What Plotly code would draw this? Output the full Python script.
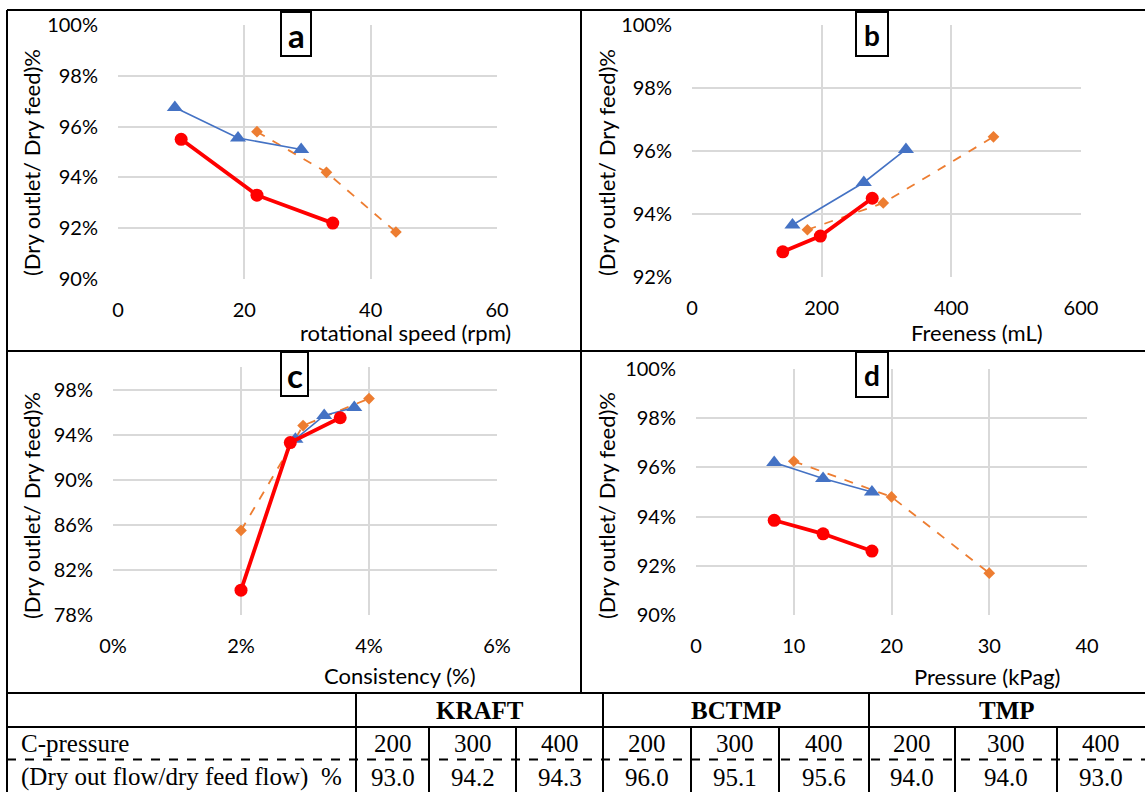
import plotly.graph_objects as go

W, H = 1145, 792

# ---- panel a: rotational speed (rpm) ----
speed_blue_x = [9, 19, 29]
speed_blue_y = [96.75, 95.55, 95.1]
speed_orange_x = [22, 33, 44]
speed_orange_y = [95.8, 94.2, 91.85]
speed_red_x = [10, 22, 34]
speed_red_y = [95.5, 93.3, 92.2]

# ---- panel b: freeness (mL) ----
free_blue_x = [155, 265, 330]
free_blue_y = [93.65, 95.0, 96.05]
free_orange_x = [178, 295, 465]
free_orange_y = [93.5, 94.35, 96.45]
free_red_x = [140, 198, 278]
free_red_y = [92.8, 93.3, 94.5]

# ---- panel c: consistency (%) ----
cons_blue_x = [2.85, 3.3, 3.77]
cons_blue_y = [93.6, 95.7, 96.4]
cons_orange_x = [2.0, 2.97, 4.0]
cons_orange_y = [85.5, 94.8, 97.2]
cons_red_x = [2.0, 2.77, 3.55]
cons_red_y = [80.2, 93.3, 95.5]

# ---- panel d: pressure (kPag) ----
pres_blue_x = [8, 13, 18]
pres_blue_y = [96.2, 95.55, 95.0]
pres_orange_x = [10, 20, 30]
pres_orange_y = [96.25, 94.8, 91.7]
pres_red_x = [8, 13, 18]
pres_red_y = [93.85, 93.3, 92.6]

# ---- table ----
pulp_types = ["KRAFT", "BCTMP", "TMP"]
c_pressure = [200, 300, 400]
kraft_ratio = [93.0, 94.2, 94.3]
bctmp_ratio = [96.0, 95.1, 95.6]
tmp_ratio = [94.0, 94.0, 93.0]
row_labels = ["C-pressure", "(Dry out flow/dry feed flow)  %"]

BLUE, ORANGE, RED = "#4472C4", "#ED7D31", "#FF0000"
GRID = "#D9D9D9"
CHART_FONT = "Lato"
TABLE_FONT = "Liberation Serif"


def px(x):
    return x / W


def py(y):
    return 1 - y / H


fig = go.Figure()

panels = [
    dict(ax="", xd=(118, 497), yd=(25, 279), xr=[0, 60], xdt=20, xs="", yr=[90, 100], ydt=2,
         data=(speed_orange_x, speed_orange_y, speed_blue_x, speed_blue_y, speed_red_x, speed_red_y),
         letter="a", lsize=33, box=(281, 12, 311, 56), xt="rotational speed (rpm)",
         xtp=(513, 333), ytp=(32, 163)),
    dict(ax="2", xd=(692, 1081), yd=(25, 277), xr=[0, 600], xdt=200, xs="", yr=[92, 100], ydt=2,
         data=(free_orange_x, free_orange_y, free_blue_x, free_blue_y, free_red_x, free_red_y),
         letter="b", lsize=28, box=(856, 12, 888, 56), xt="Freeness (mL)",
         xtp=(1045, 333), ytp=(607, 163)),
    dict(ax="3", xd=(113, 497), yd=(367, 615), xr=[0, 6], xdt=2, xs="%", yr=[78, 100], ydt=4,
         data=(cons_orange_x, cons_orange_y, cons_blue_x, cons_blue_y, cons_red_x, cons_red_y),
         letter="c", lsize=33, box=(281, 352, 308, 396), xt="Consistency (%)",
         xtp=(478, 675), ytp=(32, 506)),
    dict(ax="4", xd=(696, 1087), yd=(369, 615), xr=[0, 40], xdt=10, xs="", yr=[90, 100], ydt=2,
         data=(pres_orange_x, pres_orange_y, pres_blue_x, pres_blue_y, pres_red_x, pres_red_y),
         letter="d", lsize=28, box=(856, 352, 888, 397), xt="Pressure (kPag)",
         xtp=(1062, 676), ytp=(607, 506)),
]

shapes = []
annotations = []
layout_axes = {}

for p in panels:
    xa, ya = "x" + p["ax"], "y" + p["ax"]
    ox, oy, bx, by, rx, ry = p["data"]
    fig.add_trace(go.Scatter(x=ox, y=oy, xaxis=xa, yaxis=ya, mode="lines+markers",
                             line=dict(color=ORANGE, width=1.8, dash="dash"),
                             marker=dict(symbol="diamond", size=9, color=ORANGE)))
    fig.add_trace(go.Scatter(x=bx, y=by, xaxis=xa, yaxis=ya, mode="lines+markers",
                             line=dict(color=BLUE, width=1.6),
                             marker=dict(symbol="triangle-up", size=14, color=BLUE)))
    fig.add_trace(go.Scatter(x=rx, y=ry, xaxis=xa, yaxis=ya, mode="lines+markers",
                             line=dict(color=RED, width=3.8),
                             marker=dict(symbol="circle", size=13, color=RED)))

    common = dict(showgrid=True, gridcolor=GRID, gridwidth=1.5, zeroline=False,
                  showline=False, ticks="", tickfont=dict(family=CHART_FONT, size=20, color="#000000"),
                  fixedrange=True, automargin=False)
    layout_axes["xaxis" + p["ax"]] = dict(
        domain=[px(p["xd"][0]), px(p["xd"][1])], range=p["xr"], dtick=p["xdt"], tick0=0,
        ticksuffix=p["xs"], anchor=ya, ticklabelstandoff=17, **common)
    layout_axes["yaxis" + p["ax"]] = dict(
        domain=[py(p["yd"][1]), py(p["yd"][0])], range=p["yr"], dtick=p["ydt"], tick0=p["yr"][0],
        ticksuffix="%", anchor=xa, ticklabelstandoff=19, **common)

    # panel letter box
    x0, y0, x1, y1 = p["box"]
    shapes.append(dict(type="rect", xref="paper", yref="paper", x0=px(x0), x1=px(x1),
                       y0=py(y1), y1=py(y0), line=dict(color="#000000", width=2),
                       fillcolor="#FFFFFF", layer="above"))
    annotations.append(dict(text="<b>%s</b>" % p["letter"], xref="paper", yref="paper",
                            x=px((x0 + x1) / 2), y=py((y0 + y1) / 2 + 1), showarrow=False,
                            xanchor="center", yanchor="middle",
                            font=dict(family=CHART_FONT, size=p["lsize"], color="#000000")))
    # axis titles
    annotations.append(dict(text=p["xt"], xref="paper", yref="paper", x=px(p["xtp"][0]),
                            y=py(p["xtp"][1]), showarrow=False, xanchor="right", yanchor="middle",
                            font=dict(family=CHART_FONT, size=22, color="#000000")))
    annotations.append(dict(text="(Dry outlet/ Dry feed)%", xref="paper", yref="paper",
                            x=px(p["ytp"][0]), y=py(p["ytp"][1]), showarrow=False, textangle=-90,
                            xanchor="center", yanchor="middle",
                            font=dict(family=CHART_FONT, size=22, color="#000000")))

# ---- frame around the four panels ----
BLACK = dict(color="#000000", width=2)


def hline(y, x0, x1, dash=None):
    ln = dict(BLACK)
    if dash:
        ln["dash"] = dash
    shapes.append(dict(type="line", xref="paper", yref="paper", x0=px(x0), x1=px(x1),
                       y0=py(y), y1=py(y), line=ln))


def vline(x, y0, y1):
    shapes.append(dict(type="line", xref="paper", yref="paper", x0=px(x), x1=px(x),
                       y0=py(y0), y1=py(y1), line=BLACK))


hline(10, 7, W)
hline(351, 7, W)
vline(7, 10, H)
vline(581, 10, 693)

# ---- table grid ----
hline(693, 7, W)
hline(727, 7, W)
hline(759.5, 7, W, dash="dash")
group_edges = [356, 603, 869, W]
sub_edges = [356, 429, 516, 603, 691, 779, 869, 955, 1057, W]
for x in group_edges[:-1]:
    vline(x, 693, H)
for x in sub_edges:
    if x not in group_edges:
        vline(x, 727, H)

TFONT = dict(family=TABLE_FONT, size=25, color="#000000")
ratios = [kraft_ratio, bctmp_ratio, tmp_ratio]
for g, name in enumerate(pulp_types):
    cx = (group_edges[g] + group_edges[g + 1]) / 2
    annotations.append(dict(text="<b>%s</b>" % name, xref="paper", yref="paper", x=px(cx),
                            y=py(710), showarrow=False, xanchor="center", yanchor="middle",
                            font=TFONT))
    for k in range(3):
        left, right = sub_edges[g * 3 + k], sub_edges[g * 3 + k + 1]
        cx = (left + right) / 2
        annotations.append(dict(text=str(c_pressure[k]), xref="paper", yref="paper", x=px(cx),
                                y=py(743), showarrow=False, xanchor="center", yanchor="middle",
                                font=TFONT))
        annotations.append(dict(text="%.1f" % ratios[g][k], xref="paper", yref="paper", x=px(cx),
                                y=py(777), showarrow=False, xanchor="center", yanchor="middle",
                                font=TFONT))

for label, yc in zip(row_labels, [743, 777]):
    annotations.append(dict(text=label, xref="paper", yref="paper", x=px(19), y=py(yc),
                            showarrow=False, xanchor="left", yanchor="middle", font=TFONT))

fig.update_layout(width=W, height=H, margin=dict(l=0, r=0, t=0, b=0, autoexpand=False),
                  paper_bgcolor="#FFFFFF", plot_bgcolor="#FFFFFF", showlegend=False,
                  shapes=shapes, annotations=annotations, **layout_axes)

fig.write_html("out.html", config={"displayModeBar": False})
